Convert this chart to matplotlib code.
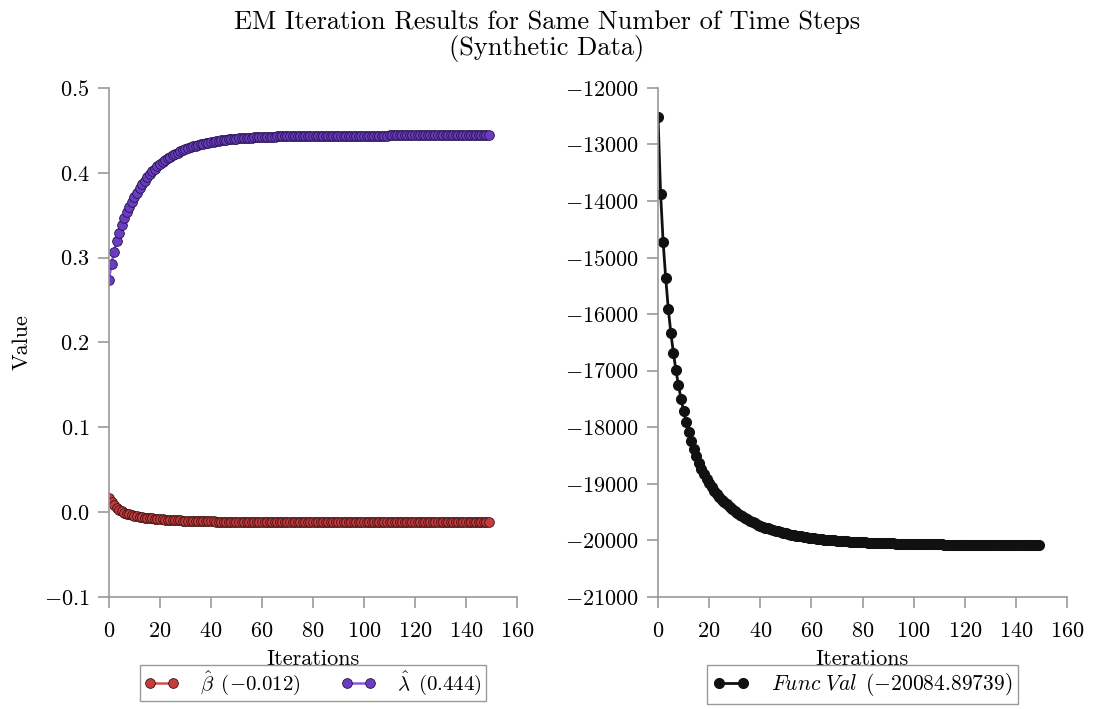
import numpy as np
import matplotlib
matplotlib.use('Agg')
import matplotlib.pyplot as plt

plt.rcParams['font.family'] = 'serif'
plt.rcParams['font.serif'] = ['cmr10']
plt.rcParams['mathtext.fontset'] = 'cm'
plt.rcParams['axes.formatter.use_mathtext'] = True

# estimated values, one per EM iteration
beta = [0.017, 0.012, 0.008, 0.005, 0.003, 0.001, -0.0005, -0.0017, -0.0027, -0.0036,
        -0.0043, -0.0049, -0.0055, -0.0060, -0.0064, -0.0068, -0.0072, -0.0075, -0.0078, -0.0081,
        -0.0084, -0.0086, -0.0088, -0.0090, -0.0092, -0.0094, -0.0095, -0.0097, -0.0098, -0.0099,
        -0.0101, -0.0102, -0.0103, -0.0104, -0.0105, -0.0106, -0.0107, -0.0107, -0.0108, -0.0109,
        -0.0109, -0.0110, -0.0111, -0.0111, -0.0112, -0.0112, -0.0113, -0.0113, -0.0113, -0.0114,
        -0.0114, -0.0114, -0.0115, -0.0115, -0.0115, -0.0116, -0.0116, -0.0116, -0.0116, -0.0116,
        -0.0116, -0.0117, -0.0117, -0.0117, -0.0117, -0.0117, -0.0117, -0.0118, -0.0118, -0.0118,
        -0.0118, -0.0118, -0.0118, -0.0118, -0.0118, -0.0118, -0.0118, -0.0119, -0.0119, -0.0119,
        -0.0119, -0.0119, -0.0119, -0.0119, -0.0119, -0.0119, -0.0119, -0.0119, -0.0119, -0.0119,
        -0.0119, -0.0119, -0.0119, -0.0119, -0.0119, -0.0119, -0.0119, -0.0119, -0.0119, -0.0119,
        -0.0120, -0.0120, -0.0120, -0.0120, -0.0120, -0.0120, -0.0120, -0.0120, -0.0120, -0.0120,
        -0.0120, -0.0120, -0.0120, -0.0120, -0.0120, -0.0120, -0.0120, -0.0120, -0.0120, -0.0120,
        -0.0120, -0.0120, -0.0120, -0.0120, -0.0120, -0.0120, -0.0120, -0.0120, -0.0120, -0.0120,
        -0.0120, -0.0120, -0.0120, -0.0120, -0.0120, -0.0120, -0.0120, -0.0120, -0.0120, -0.0120,
        -0.0120, -0.0120, -0.0120, -0.0120, -0.0120, -0.0120, -0.0120, -0.0120, -0.0120, -0.0120]

lam = [0.274, 0.293, 0.307, 0.319, 0.329, 0.338, 0.3465, 0.3536, 0.3602, 0.3661,
       0.3713, 0.3767, 0.3815, 0.3862, 0.3906, 0.3945, 0.3985, 0.4015, 0.4047, 0.4079,
       0.4104, 0.4128, 0.4150, 0.4170, 0.4189, 0.4206, 0.4223, 0.4238, 0.4252, 0.4265,
       0.4278, 0.4289, 0.4300, 0.4310, 0.4319, 0.4327, 0.4335, 0.4342, 0.4349, 0.4356,
       0.4362, 0.4367, 0.4372, 0.4377, 0.4381, 0.4385, 0.4389, 0.4393, 0.4396, 0.4399,
       0.4402, 0.4405, 0.4407, 0.4409, 0.4412, 0.4414, 0.4415, 0.4417, 0.4419, 0.4420,
       0.4422, 0.4423, 0.4424, 0.4425, 0.4426, 0.4427, 0.4428, 0.4429, 0.4430, 0.4431,
       0.4432, 0.4432, 0.4433, 0.4433, 0.4434, 0.4434, 0.4435, 0.4435, 0.4436, 0.4436,
       0.4436, 0.4437, 0.4437, 0.4437, 0.4437, 0.4438, 0.4438, 0.4438, 0.4438, 0.4438,
       0.4438, 0.4438, 0.4438, 0.4439, 0.4439, 0.4439, 0.4439, 0.4439, 0.4439, 0.4439,
       0.4439, 0.4439, 0.4439, 0.4439, 0.4439, 0.4439, 0.4439, 0.4439, 0.4439, 0.4439,
       0.4440, 0.4440, 0.4440, 0.4440, 0.4440, 0.4440, 0.4440, 0.4440, 0.4440, 0.4440,
       0.4440, 0.4440, 0.4440, 0.4440, 0.4440, 0.4440, 0.4440, 0.4440, 0.4440, 0.4440,
       0.4440, 0.4440, 0.4440, 0.4440, 0.4440, 0.4440, 0.4440, 0.4440, 0.4440, 0.4440,
       0.4440, 0.4440, 0.4440, 0.4440, 0.4440, 0.4440, 0.4440, 0.4440, 0.4440, 0.4440]

func_val = [-12520, -13870, -14730, -15360, -15900, -16330, -16680, -16990, -17260, -17500,
            -17710, -17900, -18080, -18240, -18380, -18510, -18630, -18743, -18830, -18912,
            -18989, -19060, -19127, -19180, -19230, -19277, -19321, -19364, -19403, -19441,
            -19476, -19510, -19542, -19572, -19600, -19627, -19652, -19676, -19699, -19720,
            -19740, -19757, -19773, -19788, -19802, -19816, -19829, -19842, -19854, -19865,
            -19876, -19886, -19896, -19905, -19914, -19922, -19930, -19938, -19945, -19952,
            -19958, -19964, -19969, -19974, -19979, -19984, -19988, -19992, -19996, -20000,
            -20004, -20008, -20011, -20014, -20017, -20020, -20023, -20026, -20028, -20031,
            -20033, -20035, -20037, -20039, -20041, -20043, -20045, -20046, -20048, -20049,
            -20051, -20052, -20054, -20055, -20056, -20058, -20059, -20060, -20061, -20062,
            -20063, -20064, -20065, -20066, -20067, -20068, -20069, -20069, -20070, -20071,
            -20072, -20072, -20073, -20073, -20074, -20075, -20075, -20076, -20076, -20077,
            -20077, -20078, -20078, -20079, -20079, -20079, -20080, -20080, -20080, -20081,
            -20081, -20081, -20082, -20082, -20082, -20082, -20083, -20083, -20083, -20083,
            -20083, -20084, -20084, -20084, -20084, -20084, -20084, -20085, -20085, -20085]

beta_label = r'$\hat{\beta}\ \,(-0.012)$'
lam_label = r'$\hat{\lambda}\ \,(0.444)$'
func_label = r'$Func\ Val\ \,(-20084.89739)$'

it = np.arange(len(func_val))
grey = '#999999'

fig = plt.figure(figsize=(10.94, 7.09), dpi=100)
ax1 = fig.add_axes([0.0996, 0.158, 0.373, 0.718])
ax2 = fig.add_axes([0.6015, 0.158, 0.3738, 0.718])

ax1.plot(it, beta, '-o', color='#d0504f', mfc='#c43c3e', mec='#3a1010', mew=0.6, ms=7, lw=1.8, label=beta_label)
ax1.plot(it, lam, '-o', color='#8a5ad8', mfc='#6a3dc0', mec='#24124a', mew=0.6, ms=7, lw=1.8, label=lam_label)
ax2.plot(it, func_val, '-o', color='#111111', mfc='#111111', mec='#111111', ms=7, lw=2, label=func_label)

ax1.set_ylim(-0.1, 0.5)
ax2.set_ylim(-21000, -12000)
ax1.set_yticks(np.arange(-0.1, 0.51, 0.1))
ax2.set_yticks(np.arange(-21000, -11999, 1000))

for a in (ax1, ax2):
    a.set_xlim(0, 160)
    a.set_xticks(np.arange(0, 161, 20))
    for s in ('top', 'right'):
        a.spines[s].set_visible(False)
    for s in ('left', 'bottom'):
        a.spines[s].set_color(grey)
        a.spines[s].set_linewidth(1.2)
    a.tick_params(direction='out', length=8, width=1.2, color=grey, labelsize=16, pad=6)
    a.tick_params(axis='x', pad=10)
    a.set_xlabel('Iterations', fontsize=16, labelpad=6)

ax1.set_ylabel('Value', fontsize=16, labelpad=9)

leg_kw = dict(loc='upper center', numpoints=2, fancybox=False,
              edgecolor=grey, framealpha=1, handlelength=1.7, handletextpad=1.0,
              borderaxespad=0)
ax1.legend(bbox_to_anchor=(0.5, -0.134), ncol=2, columnspacing=1.9,
           fontsize=15, borderpad=0.2, **leg_kw)
ax2.legend(bbox_to_anchor=(0.5, -0.134), fontsize=15.5, borderpad=0.28, **leg_kw)

fig.suptitle('EM Iteration Results for Same Number of Time Steps\n(Synthetic Data)',
             fontsize=19, y=0.985, linespacing=1.05)

fig.savefig('out.png', dpi=100)
